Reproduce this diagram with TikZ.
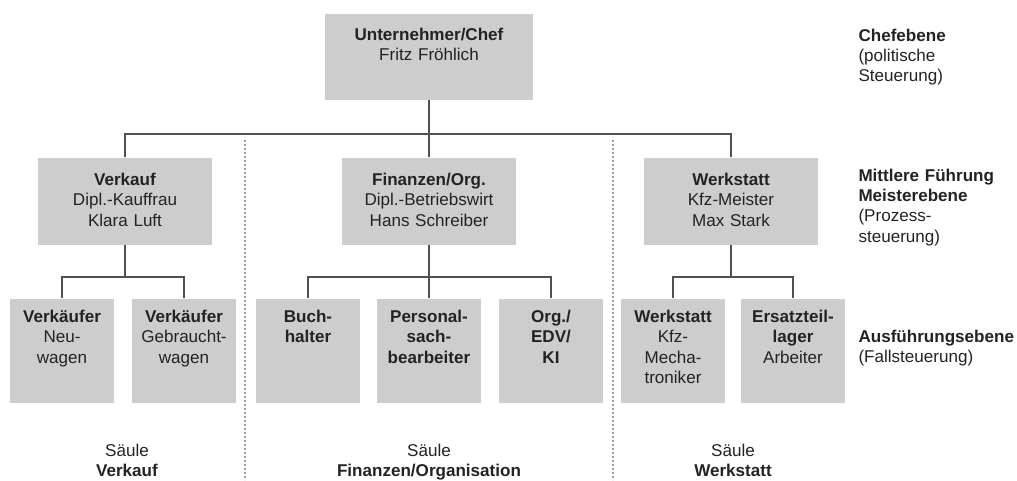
\documentclass[tikz,border=0pt]{standalone}
\usepackage{fontspec}
\setmainfont{Liberation Sans}
\usepackage{tikz}
\definecolor{boxgray}{RGB}{205,205,205}
\definecolor{linegray}{RGB}{80,80,80}
\definecolor{textgray}{RGB}{35,35,35}
\tikzset{every picture/.style={line width=0.75pt}}
\tikzset{
  orgtext/.style={inner sep=0pt, text=textgray, font=\fontsize{12.8}{15.3}\selectfont},
  orgbox/.style={orgtext, fill=boxgray, align=center, anchor=north},
  chefbox/.style={orgbox, text width=156pt, text height=20.25pt, text depth=44.25pt},
  midbox/.style={orgbox, text width=130.5pt, text height=21pt, text depth=44.25pt},
  subbox/.style={orgbox, text width=78pt, text height=18pt, text depth=60pt},
  levellabel/.style={orgtext, align=left, anchor=base west, text width=125pt},
  pillarlabel/.style={orgtext, align=center, anchor=base, text width=200pt},
  orgline/.style={color=linegray, line width=1.1pt},
  sepline/.style={color=gray!75, line width=0.9pt, dash pattern=on 1.4pt off 1.6pt}
}

\begin{document}
\begin{tikzpicture}[x=0.75pt,y=0.75pt,yscale=-1,xscale=1]
\useasboundingbox (0,0) rectangle (1017,480);

%Pillar separators
\draw [sepline] (245,140) -- (245,480) ;
\draw [sepline] (613,140) -- (613,480) ;

% Chef
\node [chefbox] (chef) at (429,13) {\textbf{Unternehmer/Chef}\\Fritz Fröhlich};

% Middle level
\node [midbox] (verkauf) at (125,157) {\textbf{Verkauf}\\Dipl.-Kauffrau\\Klara Luft};
\node [midbox] (finanzen) at (429,157) {\textbf{Finanzen/Org.}\\Dipl.-Betriebswirt\\Hans Schreiber};
\node [midbox] (werkstatt) at (731,157) {\textbf{Werkstatt}\\Kfz-Meister\\Max Stark};

% Lower level
\node [subbox] (neuwagen) at (62,298) {\textbf{Verkäufer}\\Neu-\\wagen};
\node [subbox] (gebrauchtwagen) at (184,298) {\textbf{Verkäufer}\\Gebraucht-\\wagen};
\node [subbox] (buchhalter) at (308,298) {\textbf{Buch-}\\\textbf{halter}};
\node [subbox] (personal) at (429,298) {\textbf{Personal-}\\\textbf{sach-}\\\textbf{bearbeiter}};
\node [subbox] (edv) at (551,298) {\textbf{Org./}\\\textbf{EDV/}\\\textbf{KI}};
\node [subbox] (mechatroniker) at (673,298) {\textbf{Werkstatt}\\Kfz-\\Mecha-\\troniker};
\node [subbox] (lager) at (793,298) {\textbf{Ersatzteil-}\\\textbf{lager}\\Arbeiter};

%Straight Lines
\draw [orgline] (chef.south) -- ++(0,34) coordinate (chefbus) ;
\draw [orgline] (chefbus) -- (finanzen.north) ;
\draw [orgline] (verkauf.north) |- (chefbus) -| (werkstatt.north) ;

\draw [orgline] (verkauf.south) -- ++(0,32) coordinate (verkaufbus) ;
\draw [orgline] (neuwagen.north) |- (verkaufbus) -| (gebrauchtwagen.north) ;

\draw [orgline] (finanzen.south) -- ++(0,32) coordinate (finanzbus) ;
\draw [orgline] (finanzbus) -- (personal.north) ;
\draw [orgline] (buchhalter.north) |- (finanzbus) -| (edv.north) ;

\draw [orgline] (werkstatt.south) -- ++(0,32) coordinate (werkstattbus) ;
\draw [orgline] (mechatroniker.north) |- (werkstattbus) -| (lager.north) ;

% Text Node
\node [levellabel] (chefebene) at (858,41) {\textbf{Chefebene}\\(politische\\Steuerung)};
% Text Node
\node [levellabel] (mittlere) at (858,181) {\textbf{Mittlere Führung}\\\textbf{Meisterebene}\\(Prozess-\\steuerung)};
% Text Node
\node [levellabel] (ausfuehrung) at (858,342) {\textbf{Ausführungsebene}\\(Fallsteuerung)};

% Text Node
\node [pillarlabel] (saeuleverkauf) at (127,456) {Säule\\\textbf{Verkauf}};
% Text Node
\node [pillarlabel] (saeulefinanzen) at (429,456) {Säule\\\textbf{Finanzen/Organisation}};
% Text Node
\node [pillarlabel] (saeulewerkstatt) at (733,456) {Säule\\\textbf{Werkstatt}};

\end{tikzpicture}
\end{document}
